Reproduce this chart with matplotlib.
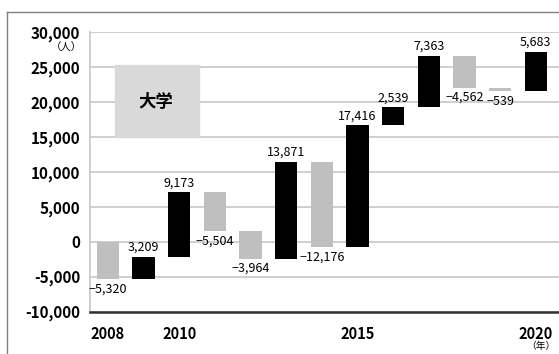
import numpy as np
import matplotlib.pyplot as plt
from matplotlib.lines import Line2D
from matplotlib.patches import Rectangle

plt.rcParams['font.family'] = ['Noto Sans CJK JP', 'DejaVu Sans']

# yearly change (persons)
years = [2008, 2009, 2010, 2011, 2012, 2013, 2014, 2015, 2016, 2017, 2018, 2019, 2020]
changes = [-5320, 3209, 9173, -5504, -3964, 13871, -12176, 17416, 2539, 7363, -4562, -539, 5683]
value_labels = ["−5,320", "3,209", "9,173", "−5,504", "−3,964", "13,871", "−12,176",
                "17,416", "2,539", "7,363", "−4,562", "−539", "5,683"]
yticks = [-10000, -5000, 0, 5000, 10000, 15000, 20000, 25000, 30000]
ytick_labels = ["-10,000", "-5,000", "0", "5,000", "10,000", "15,000", "20,000", "25,000", "30,000"]
xticks = [2008, 2010, 2015, 2020]

ends = np.cumsum(changes)
starts = ends - np.array(changes)
bottoms = np.minimum(starts, ends)
heights = np.abs(changes)
colors = ["black" if c > 0 else "#bfbfbf" for c in changes]

fig = plt.figure(figsize=(5.59, 3.54), dpi=100)
ax = fig.add_axes([0.161, 0.1195, 0.839, 0.7901])

ax.bar(years, heights, bottom=bottoms, width=0.62, color=colors, zorder=3)

for x, c, top, bot, lab in zip(years, changes, np.maximum(starts, ends), bottoms, value_labels):
    if c > 0:
        ax.annotate(lab, (x, top), xytext=(0, 2), textcoords="offset points",
                    ha="center", va="bottom", fontsize=9)
    else:
        ax.annotate(lab, (x, bot), xytext=(0, -2.5), textcoords="offset points",
                    ha="center", va="top", fontsize=9)

ax.set_xlim(2007.5, 2020.65)
ax.set_ylim(-10000, 30000)
ax.set_yticks(yticks)
ax.set_yticklabels(ytick_labels, fontsize=11, fontweight="bold")
ax.set_xticks(xticks)
ax.set_xticklabels([str(y) for y in xticks], fontsize=10.5, fontweight="bold")
ax.tick_params(axis="both", length=0)
ax.tick_params(axis="y", pad=7)
ax.tick_params(axis="x", pad=10)
ax.grid(axis="y", color="#cccccc", linewidth=1.3, zorder=0)

for s in ["top", "right"]:
    ax.spines[s].set_visible(False)
ax.spines["left"].set_color("#cccccc")
ax.spines["left"].set_linewidth(1.3)
ax.spines["bottom"].set_color("#333333")
ax.spines["bottom"].set_linewidth(1.8)

# legend-like box
ax.add_patch(Rectangle((2008.2, 15000), 2.35, 10300, color="#d9d9d9", zorder=2))
ax.text(2009.35, 20000, "大学", ha="center", va="center", fontsize=12.5,
        fontweight="bold", zorder=4)

# unit labels
fig.text(66 / 559, 1 - 48 / 354, "（人）", ha="center", va="center", fontsize=7.5)
fig.text(541 / 559, 1 - 346 / 354, "（年）", ha="center", va="center", fontsize=7)

# outer frame
fig.add_artist(Line2D([7 / 559, 7 / 559], [0, 1 - 12 / 354], color="#808080", linewidth=1))
fig.add_artist(Line2D([7 / 559, 1], [1 - 12 / 354, 1 - 12 / 354], color="#808080", linewidth=1))

fig.savefig("out.png", dpi=100)
